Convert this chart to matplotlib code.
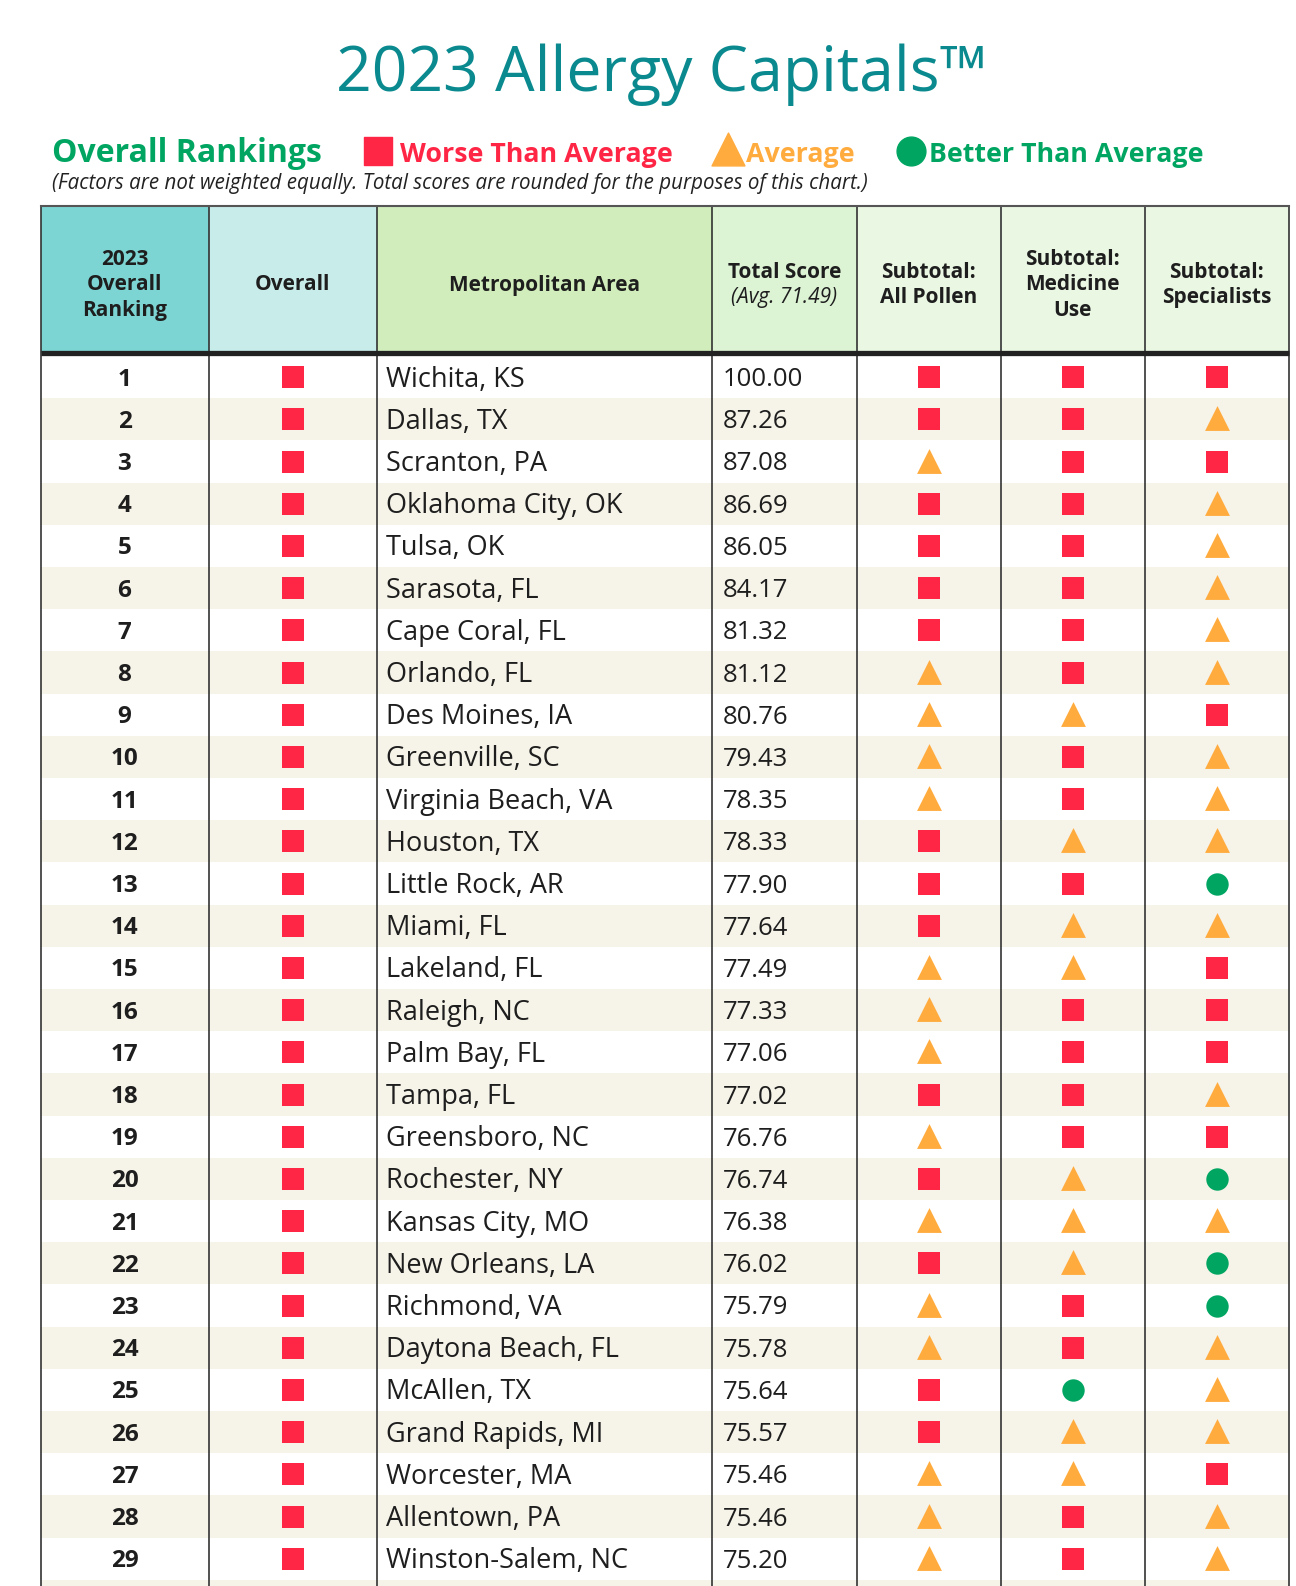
import matplotlib.pyplot as plt
from matplotlib.patches import Rectangle

plt.rcParams['font.family'] = ['Open Sans', 'DejaVu Sans']

# data
ranks = list(range(1, 30))
cities = ["Wichita, KS", "Dallas, TX", "Scranton, PA", "Oklahoma City, OK", "Tulsa, OK",
          "Sarasota, FL", "Cape Coral, FL", "Orlando, FL", "Des Moines, IA", "Greenville, SC",
          "Virginia Beach, VA", "Houston, TX", "Little Rock, AR", "Miami, FL", "Lakeland, FL",
          "Raleigh, NC", "Palm Bay, FL", "Tampa, FL", "Greensboro, NC", "Rochester, NY",
          "Kansas City, MO", "New Orleans, LA", "Richmond, VA", "Daytona Beach, FL", "McAllen, TX",
          "Grand Rapids, MI", "Worcester, MA", "Allentown, PA", "Winston-Salem, NC"]
scores = [100.00, 87.26, 87.08, 86.69, 86.05, 84.17, 81.32, 81.12, 80.76, 79.43,
          78.35, 78.33, 77.90, 77.64, 77.49, 77.33, 77.06, 77.02, 76.76, 76.74,
          76.38, 76.02, 75.79, 75.78, 75.64, 75.57, 75.46, 75.46, 75.20]
overall = ["W"] * 29
pollen = ["W", "W", "A", "W", "W", "W", "W", "A", "A", "A", "A", "W", "W", "W", "A",
          "A", "A", "W", "A", "W", "A", "W", "A", "A", "W", "W", "A", "A", "A"]
medicine = ["W", "W", "W", "W", "W", "W", "W", "W", "A", "W", "W", "A", "W", "A", "A",
            "W", "W", "W", "W", "A", "A", "A", "W", "W", "B", "A", "A", "W", "W"]
specialists = ["W", "A", "W", "A", "A", "A", "A", "A", "W", "A", "A", "A", "B", "A", "W",
               "W", "W", "A", "W", "B", "A", "B", "B", "A", "A", "A", "W", "A", "A"]
n_rows_drawn = 30  # 30th row is cut off at the bottom of the page

headers = ["2023\nOverall\nRanking", "Overall", "Metropolitan Area", "Total Score",
           "Subtotal:\nAll Pollen", "Subtotal:\nMedicine\nUse", "Subtotal:\nSpecialists"]

RED, ORANGE, GREEN, TEAL = "#ff2545", "#ffab3e", "#00a562", "#0a8a8f"
style = {"W": ("s", RED, 250), "A": ("^", ORANGE, 320), "B": ("o", GREEN, 260)}
head_colors = ["#7dd5d3", "#c8ecea", "#d1edbb", "#dcf3d4", "#eaf7e3", "#eaf7e3", "#eaf7e3"]
col_x = [40.5, 208.5, 376.5, 712, 857, 1000.5, 1144.5, 1289]
head_top, head_bot = 206, 353
row_top, row_h = 356, 42.2
dy = 2.5  # Open Sans sits a little high with va='center'

fig = plt.figure(figsize=(12.96, 15.86), dpi=100)
ax = fig.add_axes([0, 0, 1, 1])
ax.set_xlim(0, 1296)
ax.set_ylim(1586, 0)
ax.axis('off')

# title and legend
ax.text(662, 75, "2023 Allergy Capitals™", ha='center', va='center', fontsize=45,
        color=TEAL, fontweight='medium')
ax.text(52, 154, "Overall Rankings", ha='left', va='center', fontsize=23,
        color=GREEN, fontweight='bold')
ax.scatter([378], [151], marker='s', s=380, color=RED)
ax.text(400, 155, "Worse Than Average", ha='left', va='center', fontsize=19.3,
        color=RED, fontweight='bold')
ax.scatter([728], [149], marker='^', s=560, color=ORANGE)
ax.text(746, 155, "Average", ha='left', va='center', fontsize=19.3,
        color=ORANGE, fontweight='bold')
ax.scatter([911], [151], marker='o', s=430, color=GREEN)
ax.text(929, 155, "Better Than Average", ha='left', va='center', fontsize=19.3,
        color=GREEN, fontweight='bold')
ax.text(52, 184, "(Factors are not weighted equally. Total scores are rounded for the purposes of this chart.)",
        ha='left', va='center', fontsize=14.8, style='italic', color="#222222")

# header cells
for j, h in enumerate(headers):
    ax.add_patch(Rectangle((col_x[j], head_top), col_x[j + 1] - col_x[j], head_bot - head_top,
                           color=head_colors[j], lw=0))
    cx = (col_x[j] + col_x[j + 1]) / 2
    if j == 3:
        ax.text(cx, 272, h, ha='center', va='center', fontsize=15, fontweight='bold', color="#1e1e1e")
        ax.text(cx, 298, "(Avg. 71.49)", ha='center', va='center', fontsize=15, style='italic', color="#1e1e1e")
    else:
        ax.text(cx, 285, h, ha='center', va='center', fontsize=15, fontweight='bold',
                color="#1e1e1e", linespacing=1.3)

# body rows
for i in range(n_rows_drawn):
    y0 = row_top + i * row_h
    if i % 2 == 1:
        ax.add_patch(Rectangle((col_x[0], y0), col_x[-1] - col_x[0], row_h, color="#f6f3e8", lw=0))

for i in range(len(ranks)):
    yc = row_top + i * row_h + row_h / 2
    ax.text((col_x[0] + col_x[1]) / 2, yc + dy, str(ranks[i]), ha='center', va='center',
            fontsize=17.5, fontweight='bold', color="#1e1e1e")
    ax.text(col_x[2] + 10, yc + dy, cities[i], ha='left', va='center', fontsize=19.5, color="#1e1e1e")
    ax.text(col_x[3] + 11, yc + dy, f"{scores[i]:.2f}", ha='left', va='center', fontsize=18.5, color="#1e1e1e")
    for j, vals in zip([1, 4, 5, 6], [overall, pollen, medicine, specialists]):
        m, c, s = style[vals[i]]
        yy = yc - 1 if m == '^' else yc
        ax.scatter([(col_x[j] + col_x[j + 1]) / 2], [yy], marker=m, s=s, color=c, lw=0)

# grid lines
for x in col_x:
    ax.plot([x, x], [head_top, 1586], color="#333333", lw=1.2, solid_capstyle='butt')
ax.plot([col_x[0], col_x[-1]], [head_top, head_top], color="#555555", lw=1.5)
ax.plot([col_x[0], col_x[-1]], [head_bot, head_bot], color="#222222", lw=3.8, solid_capstyle='butt')

plt.savefig('out.png', dpi=100)
